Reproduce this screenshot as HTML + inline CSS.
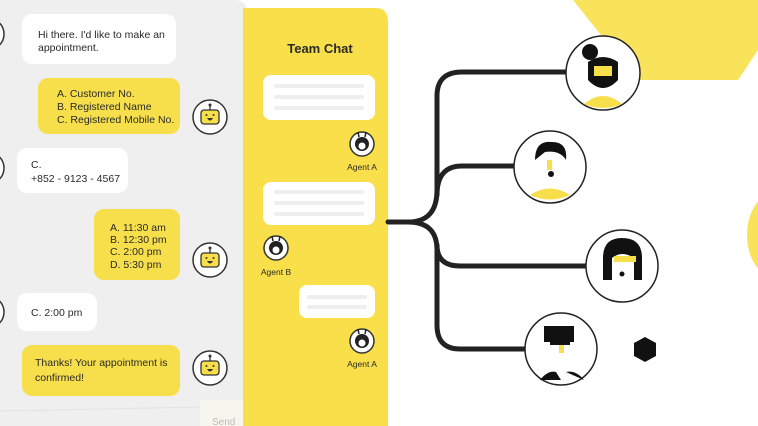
<!DOCTYPE html>
<html><head><style>
html,body{margin:0;padding:0;width:758px;height:426px;overflow:hidden;background:#fff}
svg{display:block}
text{font-family:"Liberation Sans",sans-serif;fill:#2a2a2a}
</style></head><body>
<svg width="758" height="426" viewBox="0 0 758 426" xmlns="http://www.w3.org/2000/svg">
<defs>
<g id="bot">
<circle r="17" fill="#fff" stroke="#333" stroke-width="1.5"/>
<rect x="-9" y="-7" width="18" height="14" rx="3" fill="#f7df4b" stroke="#333" stroke-width="1.3"/>
<line x1="0" y1="-7" x2="0" y2="-11" stroke="#333" stroke-width="1.3"/><circle cy="-12" r="1.5" fill="#333"/>
<circle cx="-3.5" cy="-2" r="1" fill="#333"/><circle cx="3.5" cy="-2" r="1" fill="#333"/>
<path d="M-3 1 Q0 6 3 1 Z" fill="#333"/>
</g>
<g id="agent">
<circle r="12" fill="#fff" stroke="#333" stroke-width="1.5"/>
<circle cy="0" r="7" fill="#222"/><circle cy="2" r="3.5" fill="#fff"/>
<line x1="-3" y1="-7" x2="-4" y2="-12" stroke="#222" stroke-width="1.5"/><line x1="3" y1="-7" x2="4" y2="-12" stroke="#222" stroke-width="1.5"/>
</g>
</defs>
<polygon points="573,0 758,0 758,50 738,80 637,80" fill="#f8e35a"/>
<ellipse cx="775" cy="235" rx="28" ry="42" fill="#f8e35a"/>
<path d="M0 0 H236 Q248 2 248 14 V426 H0 Z" fill="#efefef"/>
<rect x="200" y="400" width="48" height="26" fill="#f7f6ee"/>
<text x="212" y="425" font-size="10" style="fill:#bbb">Send</text>
<line x1="0" y1="411" x2="200" y2="407" stroke="#e2e2e2"/>
<circle cx="-12" cy="34" r="16" fill="#fff" stroke="#333" stroke-width="1.5"/>
<circle cx="-12" cy="168" r="16" fill="#fff" stroke="#333" stroke-width="1.5"/>
<circle cx="-12" cy="312" r="16" fill="#fff" stroke="#333" stroke-width="1.5"/>
<rect x="22" y="14" width="154" height="50" rx="10" fill="#fff"/>
<text font-size="10.5"><tspan x="38" y="38">Hi there. I'd like to make an</tspan><tspan x="38" y="51">appointment.</tspan></text>
<rect x="38" y="78" width="142" height="56" rx="10" fill="#f7df4b"/>
<text font-size="10.5"><tspan x="57" y="97">A. Customer No.</tspan><tspan x="57" y="110">B. Registered Name</tspan><tspan x="57" y="123">C. Registered Mobile No.</tspan></text>
<rect x="17" y="148" width="111" height="45" rx="10" fill="#fff"/>
<text font-size="10.5"><tspan x="31" y="168">C.</tspan><tspan x="31" y="182">+852 - 9123 - 4567</tspan></text>
<rect x="94" y="209" width="86" height="71" rx="10" fill="#f7df4b"/>
<text font-size="10.5"><tspan x="110" y="231">A. 11:30 am</tspan><tspan x="110" y="243">B. 12:30 pm</tspan><tspan x="110" y="255">C. 2:00 pm</tspan><tspan x="110" y="268">D. 5:30 pm</tspan></text>
<rect x="17" y="293" width="80" height="38" rx="10" fill="#fff"/>
<text x="31" y="316" font-size="10.5">C. 2:00 pm</text>
<rect x="22" y="345" width="158" height="51" rx="10" fill="#f7df4b"/>
<text font-size="10.5"><tspan x="35" y="366">Thanks! Your appointment is</tspan><tspan x="35" y="381">confirmed!</tspan></text>
<use href="#bot" x="210" y="117"/>
<use href="#bot" x="210" y="260"/>
<use href="#bot" x="210" y="368"/>
<path d="M243 8 H376 Q388 8 388 22 V426 H243 Z" fill="#f9e04b"/>
<text x="320" y="53" font-size="13" font-weight="bold" text-anchor="middle">Team Chat</text>
<rect x="263" y="75" width="112" height="45" rx="8" fill="#fff"/>
<rect x="274" y="84" width="90" height="4" rx="2" fill="#eee"/><rect x="274" y="95" width="90" height="4" rx="2" fill="#eee"/><rect x="274" y="106" width="90" height="4" rx="2" fill="#eee"/>
<rect x="263" y="182" width="112" height="43" rx="8" fill="#fff"/>
<rect x="274" y="190" width="90" height="4" rx="2" fill="#eee"/><rect x="274" y="201" width="90" height="4" rx="2" fill="#eee"/><rect x="274" y="212" width="90" height="4" rx="2" fill="#eee"/>
<rect x="299" y="285" width="76" height="33" rx="8" fill="#fff"/>
<rect x="307" y="295" width="60" height="4" rx="2" fill="#eee"/><rect x="307" y="305" width="60" height="4" rx="2" fill="#eee"/>
<use href="#agent" x="362" y="144"/>
<text x="362" y="170" font-size="8.5" text-anchor="middle">Agent A</text>
<use href="#agent" x="276" y="248"/>
<text x="276" y="275" font-size="8.5" text-anchor="middle">Agent B</text>
<use href="#agent" x="362" y="341"/>
<text x="362" y="367" font-size="8.5" text-anchor="middle">Agent A</text>
<g fill="none" stroke="#222" stroke-width="5" stroke-linecap="round">
<path d="M388 222 H408 Q437 222 437 190 V96 Q437 72 462 72 H567"/>
<path d="M437 195 Q437 166 462 166 H514"/>
<path d="M408 222 Q437 222 437 250 V325 Q437 349 460 349 H525"/>
<path d="M437 245 Q437 266 460 266 H586"/>
</g>
<g stroke="#222" stroke-width="1.5">
<circle cx="603" cy="73" r="37" fill="#fff"/>
<circle cx="550" cy="167" r="36" fill="#fff"/>
<circle cx="622" cy="266" r="36" fill="#fff"/>
<circle cx="561" cy="349" r="36" fill="#fff"/>
</g>
<g stroke="none">
<path d="M584 104 Q603 88 622 104 Q603 112 584 104Z" fill="#f7df4b"/>
<circle cx="590" cy="52" r="8" fill="#111"/><path d="M588 62 Q603 52 618 62 V80 Q603 96 588 80Z" fill="#111"/><rect x="594" y="66" width="18" height="10" fill="#f7df4b"/>
<path d="M530 195 Q550 182 570 195 Q550 204 530 195Z" fill="#f7df4b"/>
<path d="M535 160 Q535 140 552 142 Q568 142 566 160 Q560 150 545 152Z" fill="#111"/><rect x="547" y="160" width="5" height="10" fill="#f7df4b"/><circle cx="551" cy="174" r="3" fill="#111"/>
<path d="M603 258 Q603 238 622 238 Q642 238 642 258 V280 H634 V258 Q622 250 612 258 V280 H603Z" fill="#111"/><rect x="614" y="256" width="22" height="6" fill="#f7df4b"/><circle cx="622" cy="274" r="2.5" fill="#111"/>
<path d="M544 326 H574 V342 H544Z" fill="#111"/><rect x="550" y="340" width="20" height="5" fill="#111"/><rect x="559" y="345" width="5" height="8" fill="#f7df4b"/><path d="M540 380 Q548 370 556 372 L561 380 Z M566 372 Q576 370 584 380Z" fill="#111"/>
</g>
<polygon points="645,337 656,343 656,356 645,362 634,356 634,343" fill="#111"/>
</svg>
</body></html>
